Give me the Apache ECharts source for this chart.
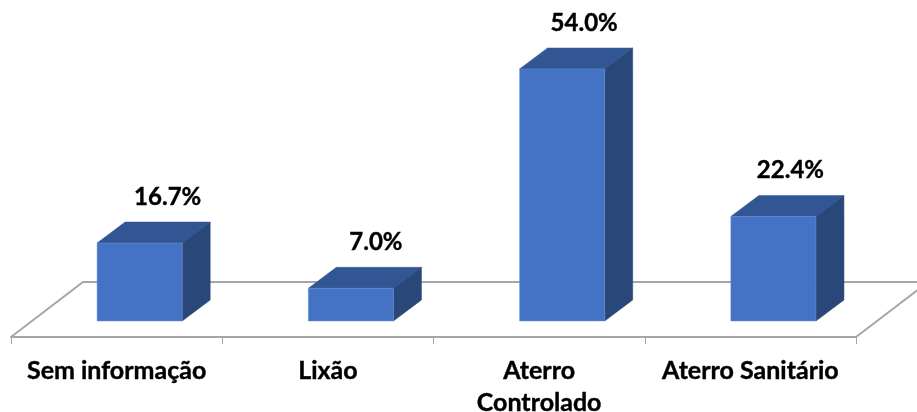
<!DOCTYPE html>
<html><head><meta charset="utf-8">
<style>html,body{margin:0;padding:0;background:#fff}#c{width:917px;height:412px}</style>
<script src="https://cdn.jsdelivr.net/npm/echarts@6/dist/echarts.min.js"></script>
</head><body><div id="c"></div>
<script>
const categories = ['Sem informação', 'Lixão', 'Aterro\nControlado', 'Aterro Sanitário'];
const values = [16.7, 7.0, 54.0, 22.4];
const labelShift = [3, 0, -3, -8];
const FONT = 'Lato, "Liberation Sans", sans-serif';
const chart = echarts.init(document.getElementById('c'), null, {renderer: 'canvas'});
chart.setOption({
  animation: false,
  backgroundColor: '#fff',
  grid: {left: 11, right: 61, top: 41, bottom: 75, outerBoundsMode: 'none'},
  xAxis: {
    type: 'category', data: categories, boundaryGap: true,
    axisLine: {show: true, onZero: false, lineStyle: {color: '#a6a6a6', width: 2}},
    axisTick: {show: true, length: 7, alignWithLabel: false, lineStyle: {color: '#a6a6a6', width: 1}},
    axisLabel: {interval: 0, color: '#000', fontFamily: FONT, fontWeight: 'bold', fontSize: 25, lineHeight: 32, margin: 18, verticalAlign: 'top',
      textBorderColor: '#000', textBorderWidth: 0.4}
  },
  yAxis: {type: 'value', min: -3.43, max: 60, show: false, splitLine: {show: false}},
  series: [
    {
      type: 'custom', coordinateSystem: 'cartesian2d', z: 1, silent: true, clip: false,
      data: [[0, 0]],
      renderItem(params, api) {
        const s = params.coordSys, dx = 72, dy = 55, b = s.y + s.height, r = s.x + s.width;
        return {type: 'polyline', shape: {points: [[s.x, b], [s.x + dx, b - dy], [r + dx, b - dy], [r, b]]},
          style: {fill: null, stroke: '#a6a6a6', lineWidth: 2}};
      }
    },
    {
      type: 'custom', coordinateSystem: 'cartesian2d', z: 2, clip: false,
      encode: {x: 0, y: 1},
      data: values.map((v, i) => [i, v]),
      renderItem(params, api) {
        const i = api.value(0), v = api.value(1);
        const top = api.coord([i, v]), base = api.coord([i, 0]), band = api.size([1, 0])[0];
        const w = band * 0.403, cx = top[0] + band * 0.109, l = cx - w / 2, r = cx + w / 2;
        const dx = 28, dy = 21, t = top[1], b = base[1];
        const poly = (pts, fill) => ({type: 'polygon', shape: {points: pts}, style: {fill, stroke: fill, lineWidth: 0.5}});
        return {type: 'group', children: [
          poly([[l, t], [l + dx, t - dy], [r + dx, t - dy], [r, t]], '#325693'),
          poly([[r, t], [r + dx, t - dy], [r + dx, b - dy], [r, b]], '#2a4779'),
          {type: 'rect', shape: {x: l, y: t, width: w, height: b - t}, style: {fill: '#4472c4', stroke: '#6f93d4', lineWidth: 0.5}},
          {type: 'text', style: {text: v.toFixed(1) + '%', x: cx + dx - 3 + labelShift[i], y: t - 46, align: 'center', verticalAlign: 'middle',
            font: 'bold 24px ' + FONT, fill: '#000', stroke: '#000', lineWidth: 0.4}}
        ]};
      }
    }
  ]
});
</script></body></html>
